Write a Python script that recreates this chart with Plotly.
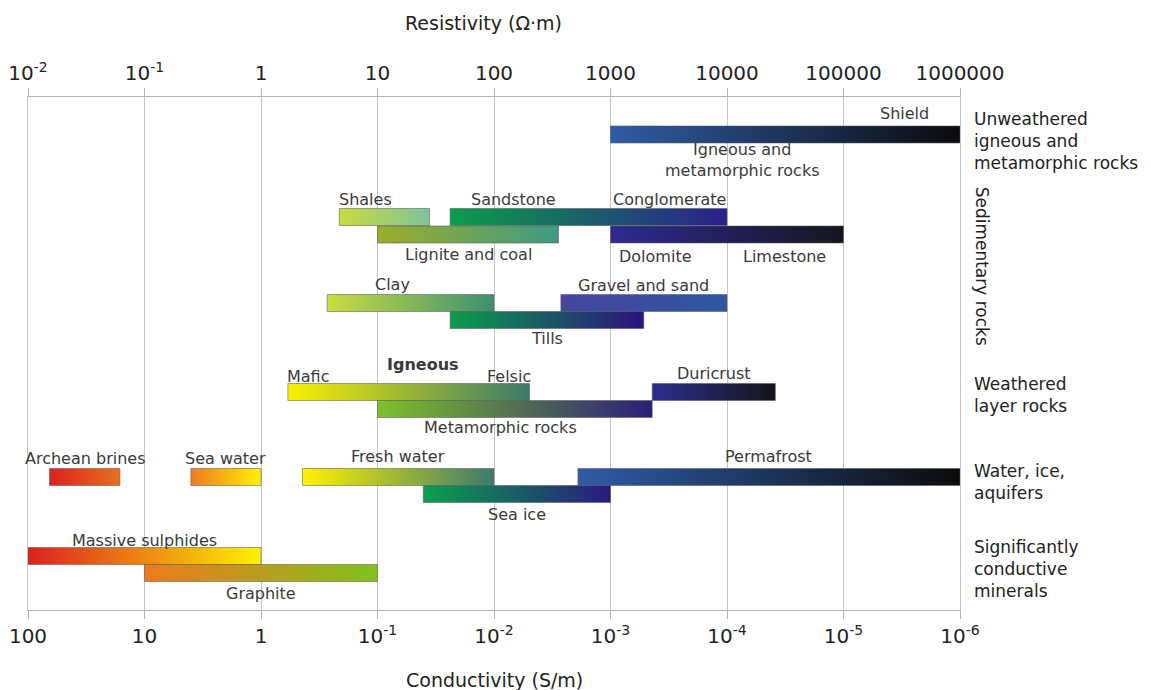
import math
import plotly.graph_objects as go

# ---------------- data ----------------
resistivity_ticks = [0.01, 0.1, 1, 10, 100, 1000, 10000, 100000, 1000000]
resistivity_labels = ["10<sup>-2</sup>", "10<sup>-1</sup>", "1", "10", "100", "1000",
                      "10000", "100000", "1000000"]
conductivity_labels = ["100", "10", "1", "10<sup>-1</sup>", "10<sup>-2</sup>", "10<sup>-3</sup>",
                       "10<sup>-4</sup>", "10<sup>-5</sup>", "10<sup>-6</sup>"]

bar_names = ["Igneous and metamorphic rocks", "Shales", "Sandstone / Conglomerate",
             "Lignite and coal", "Dolomite / Limestone", "Clay", "Gravel and sand", "Tills",
             "Mafic / Felsic", "Metamorphic rocks", "Duricrust", "Archean brines",
             "Sea water", "Fresh water", "Permafrost", "Sea ice", "Massive sulphides",
             "Graphite"]
bar_low = [1000, 4.7, 42, 10, 1000, 3.7, 375, 42, 1.7, 10, 2280, 0.0153,
           0.25, 2.27, 525, 24.7, 0.01, 0.1]
bar_high = [1000000, 28, 10000, 358, 100000, 100, 10000, 1930, 202, 2280, 26000, 0.0615,
            1, 100, 1000000, 1000, 1, 10]
bar_row = ["unweathered", "sed1a", "sed1a", "sed1b", "sed1b", "sed2a", "sed2a", "sed2b",
           "weath_a", "weath_b", "weath_a", "water_a", "water_a", "water_a", "water_a",
           "water_b", "min_a", "min_b"]

group_labels = ["Unweathered<br>igneous and<br>metamorphic rocks", "Sedimentary rocks",
                "Weathered<br>layer rocks", "Water, ice,<br>aquifers",
                "Significantly<br>conductive<br>minerals"]

# ---------------- styles / layout ----------------
bar_color_start = ["#2f5ca8", "#c6dc3a", "#0a9e4a", "#9aae2a", "#2e2a94", "#c9de40",
                   "#46469e", "#0a9e4a", "#faf000", "#7cc22a", "#2c2f8e", "#dc2020",
                   "#ef7a22", "#fff200", "#2f5ca8", "#0aa04c", "#dc2020", "#ee7a1e"]
bar_color_end = ["#0b0b0b", "#80c49c", "#2b1f8c", "#3f9a84", "#15161c", "#3d8f72",
                 "#2d57a2", "#2c127e", "#3a7a6c", "#2a1e7a", "#141418", "#e8701e",
                 "#fff200", "#3a7a6e", "#0b0b0b", "#2a1a7e", "#fff200", "#80c21e"]

# vertical centre of each row in plot units (0 = top of plot, 513 = bottom)
row_y = {"unweathered": 37.5, "sed1a": 120, "sed1b": 137.5, "sed2a": 206, "sed2b": 223,
         "weath_a": 295, "weath_b": 312, "water_a": 380, "water_b": 397,
         "min_a": 459, "min_b": 476}
HALF = 8.5
PLOT_H = 513
FONT = "DejaVu Sans, Liberation Sans, Arial, sans-serif"

fig = go.Figure()

for name, lo, hi, row, c0, c1 in zip(bar_names, bar_low, bar_high, bar_row,
                                     bar_color_start, bar_color_end):
    yc = row_y[row]
    fig.add_trace(go.Scatter(
        x=[lo, hi, hi, lo, lo],
        y=[yc - HALF, yc - HALF, yc + HALF, yc + HALF, yc - HALF],
        mode="lines", fill="toself",
        fillgradient=dict(type="horizontal", colorscale=[[0, c0], [1, c1]]),
        line=dict(color="rgba(90,90,90,0.55)", width=1),
        name=name, hoverinfo="name", showlegend=False,
    ))

# invisible trace on the top axis so it is drawn
fig.add_trace(go.Scatter(x=[bar_low[0]], y=[row_y["unweathered"]], xaxis="x2",
                         mode="markers", marker=dict(opacity=0), showlegend=False,
                         hoverinfo="skip"))


def gmean(a, b):
    return math.sqrt(a * b)


def idx(n):
    return bar_names.index(n)


ABOVE, BELOW = -18, 19.5
# (text, resistivity position, row, vertical offset, xanchor, bold)
bar_label_specs = [
    ("Shield", 10 ** 5.75, "unweathered", -21.5, "right", False),
    ("Igneous and<br>metamorphic rocks", 10 ** 4.13, "unweathered", 25, "center", False),
    ("Shales", bar_low[idx("Shales")] * 0.95, "sed1a", ABOVE, "left", False),
    ("Sandstone", 10 ** 2.17, "sed1a", ABOVE, "center", False),
    ("Conglomerate", 1000, "sed1a", ABOVE, "left", False),
    ("Lignite and coal", gmean(bar_low[idx("Lignite and coal")], bar_high[idx("Lignite and coal")]),
     "sed1b", BELOW, "center", False),
    ("Dolomite", 10 ** 3.39, "sed1b", BELOW + 2, "center", False),
    ("Limestone", 10 ** 4.49, "sed1b", BELOW + 2, "center", False),
    ("Clay", 10 ** 1.13, "sed2a", -19, "center", False),
    ("Gravel and sand", gmean(bar_low[idx("Gravel and sand")], bar_high[idx("Gravel and sand")]),
     "sed2a", ABOVE, "center", False),
    ("Tills", gmean(bar_low[idx("Tills")], bar_high[idx("Tills")]), "sed2b", 18, "center", False),
    ("Igneous", 10 ** 1.39, "weath_a", -28, "center", True),
    ("Mafic", bar_low[idx("Mafic / Felsic")] * 0.95, "weath_a", -16, "left", False),
    ("Felsic", bar_high[idx("Mafic / Felsic")] * 1.07, "weath_a", -16, "right", False),
    ("Duricrust", gmean(bar_low[idx("Duricrust")], bar_high[idx("Duricrust")]),
     "weath_a", -19, "center", False),
    ("Metamorphic rocks", 10 ** 2.06, "weath_b", 18, "center", False),
    ("Archean brines", gmean(bar_low[idx("Archean brines")], bar_high[idx("Archean brines")]),
     "water_a", -19, "center", False),
    ("Sea water", gmean(bar_low[idx("Sea water")], bar_high[idx("Sea water")]),
     "water_a", -19, "center", False),
    ("Fresh water", gmean(bar_low[idx("Fresh water")], bar_high[idx("Fresh water")]),
     "water_a", -21, "center", False),
    ("Permafrost", gmean(bar_low[idx("Permafrost")], bar_high[idx("Permafrost")]),
     "water_a", -21, "center", False),
    ("Sea ice", gmean(bar_low[idx("Sea ice")], bar_high[idx("Sea ice")]),
     "water_b", 20, "center", False),
    ("Massive sulphides", gmean(bar_low[idx("Massive sulphides")], bar_high[idx("Massive sulphides")]),
     "min_a", -16, "center", False),
    ("Graphite", gmean(bar_low[idx("Graphite")], bar_high[idx("Graphite")]),
     "min_b", 20, "center", False),
]

annotations = []
for text, xv, row, dy, xa, bold in bar_label_specs:
    annotations.append(dict(
        x=math.log10(xv), y=row_y[row] + dy, xref="x", yref="y",
        text=f"<b>{text}</b>" if bold else text, showarrow=False,
        xanchor=xa, yanchor="middle", align="center",
        font=dict(family=FONT, size=16, color="#3a3a3a"),
    ))

# group labels at the right
group_y = [44, 169, 298, 385, 472]
for text, gy in zip(group_labels, group_y):
    rot = text == "Sedimentary rocks"
    annotations.append(dict(
        x=1.024 if rot else 1.0125, y=gy, xref="paper", yref="y",
        text=text, showarrow=False, textangle=90 if rot else 0,
        xanchor="center" if rot else "left", yanchor="middle", align="left",
        font=dict(family=FONT, size=17, color="#222222"),
    ))

# axis titles
annotations.append(dict(x=0.489, y=(610 - 23) / 513, xref="paper", yref="paper",
                        text="Resistivity (Ω·m)", showarrow=False, xanchor="center",
                        yanchor="middle", font=dict(family=FONT, size=19, color="#222222")))
annotations.append(dict(x=0.501, y=(610 - 680) / 513, xref="paper", yref="paper",
                        text="Conductivity (S/m)", showarrow=False, xanchor="center",
                        yanchor="middle", font=dict(family=FONT, size=19, color="#222222")))

axis_common = dict(
    type="log", range=[-2, 6], tickmode="array", tickvals=resistivity_ticks,
    showline=True, linecolor="#b4b4b4", linewidth=1.2, automargin=False,
    ticks="outside", ticklen=8, tickcolor="#b4b4b4", tickwidth=1.2,
    tickfont=dict(family=FONT, size=20, color="#222222"), zeroline=False,
)

# the page body has an 8px margin, so the figure is shrunk by that amount
fig.update_layout(
    width=1143, height=682,
    margin=dict(l=20, r=191, t=89, b=80),
    paper_bgcolor="white", plot_bgcolor="white",
    xaxis=dict(**axis_common, ticktext=conductivity_labels, side="bottom",
               showgrid=True, gridcolor="#c4c4c4", gridwidth=1.2),
    xaxis2=dict(**axis_common, ticktext=resistivity_labels, side="top",
                overlaying="x", showgrid=False),
    yaxis=dict(range=[PLOT_H, 0], showgrid=False, zeroline=False, showticklabels=False,
               showline=True, mirror=True, linecolor="#c4c4c4", linewidth=1.2, ticks="",
               automargin=False),
    annotations=annotations,
    showlegend=False,
)

fig.write_html("out.html")
